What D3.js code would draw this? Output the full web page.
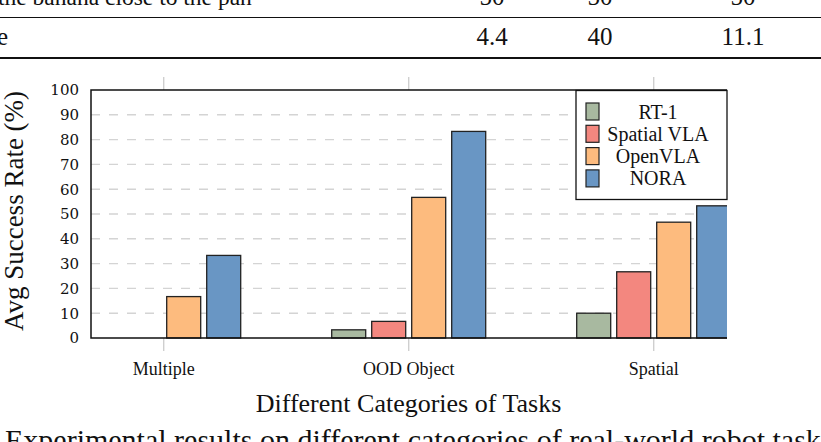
<!DOCTYPE html>
<html>
<head>
<meta charset="utf-8">
<script src="https://cdn.jsdelivr.net/npm/d3@7"></script>
<style>
  body { margin: 0; background: #fff; }
  svg { display: block; }
</style>
</head>
<body>
<div id="chart"></div>
<script>
// data
const categories = ["Multiple", "OOD Object", "Spatial"];
const seriesNames = ["RT-1", "Spatial VLA", "OpenVLA", "NORA"];
const rt1 = [0, 3.3, 10];
const spatialVla = [0, 6.7, 26.7];
const openVla = [16.7, 56.7, 46.7];
const nora = [33.3, 83.3, 53.3];
const yTicks = [0, 10, 20, 30, 40, 50, 60, 70, 80, 90, 100];
const colors = ["#a8b9a0", "#f3877f", "#fdbb7e", "#6996c4"];

// the table rows above the figure and the caption below
const tableRowTop = ["the banana close to the pan", "50", "50", "50"];
const tableRowAvg = ["Average", "4.4", "40", "11.1"];
const caption = "Experimental results on different categories of real-world robot tasks";

const W = 821, H = 442;
const plot = { left: 91, top: 90, right: 727, bottom: 338 };
const serif = "'Liberation Serif', 'Times New Roman', serif";

const svg = d3.select("#chart").append("svg")
  .attr("width", W).attr("height", H);

// ---- table fragment ----
const colX = [null, 492, 600, 743];
const tbl = svg.append("g").style("font-family", serif).style("font-size", "25px").attr("fill", "#111");
tbl.append("text").attr("x", -2).attr("y", 5).style("font-size", "23.5px").text(tableRowTop[0]);
tbl.append("text").attr("x", 8).attr("y", 45).attr("text-anchor", "end").text(tableRowAvg[0]);
for (let i = 1; i < 4; i++) {
  tbl.append("text").attr("x", colX[i]).attr("y", 5).attr("text-anchor", "middle").text(tableRowTop[i]);
  tbl.append("text").attr("x", colX[i]).attr("y", 45).attr("text-anchor", "middle").text(tableRowAvg[i]);
}
svg.append("line").attr("x1", 0).attr("x2", W).attr("y1", 17.5).attr("y2", 17.5)
  .attr("stroke", "#111").attr("stroke-width", 1.2);
svg.append("line").attr("x1", 0).attr("x2", W).attr("y1", 58).attr("y2", 58)
  .attr("stroke", "#111").attr("stroke-width", 2);

// ---- scales ----
const x = d3.scalePoint().domain(categories).range([163.7, 653.7]);
const xs = d3.scaleBand().domain(seriesNames).range([-77, 77]).paddingInner(0.15).paddingOuter(0);
const y = d3.scaleLinear().domain([0, 100]).range([plot.bottom, plot.top]);

const values = [rt1, spatialVla, openVla, nora];
const barData = [];
seriesNames.forEach((s, si) => {
  categories.forEach((c, ci) => barData.push({ series: s, cat: c, value: values[si][ci], color: colors[si] }));
});

svg.append("clipPath").attr("id", "clip")
  .append("rect").attr("x", plot.left).attr("y", plot.top - 2)
  .attr("width", plot.right - plot.left).attr("height", plot.bottom - plot.top + 4);

// grid lines
svg.append("g").selectAll("line")
  .data(yTicks.filter(d => d > 0 && d < 100))
  .enter().append("line")
  .attr("x1", plot.left).attr("x2", plot.right)
  .attr("y1", d => y(d)).attr("y2", d => y(d))
  .attr("stroke", "#d4d4d4").attr("stroke-width", 1.4)
  .attr("stroke-dasharray", "9,9");

// x ticks (grey, above and below the frame)
categories.forEach(c => {
  svg.append("line").attr("x1", x(c)).attr("x2", x(c)).attr("y1", plot.top - 13).attr("y2", plot.top)
    .attr("stroke", "#cfcfcf").attr("stroke-width", 1.4);
  svg.append("line").attr("x1", x(c)).attr("x2", x(c)).attr("y1", plot.bottom).attr("y2", plot.bottom + 13)
    .attr("stroke", "#cfcfcf").attr("stroke-width", 1.4);
});

// bars
svg.append("g").attr("clip-path", "url(#clip)")
  .selectAll("rect").data(barData.filter(d => d.value > 0)).enter().append("rect")
  .attr("x", d => x(d.cat) + xs(d.series))
  .attr("y", d => y(d.value))
  .attr("width", xs.bandwidth())
  .attr("height", d => y(0) - y(d.value))
  .attr("fill", d => d.color)
  .attr("stroke", "#222").attr("stroke-width", 1.3);

// frame: left, top, bottom
svg.append("path")
  .attr("d", `M${plot.right},${plot.top}H${plot.left}V${plot.bottom}H${plot.right}`)
  .attr("fill", "none").attr("stroke", "#111").attr("stroke-width", 1.5);

// y tick labels
svg.append("g").selectAll("text").data(yTicks).enter().append("text")
  .attr("x", 79).attr("y", d => y(d)).attr("dy", "0.36em")
  .attr("text-anchor", "end")
  .style("font-family", "'DejaVu Serif', serif").style("font-size", "15px")
  .attr("fill", "#111")
  .text(d => d);

// x tick labels
svg.append("g").selectAll("text").data(categories).enter().append("text")
  .attr("x", d => x(d)).attr("y", 375)
  .attr("text-anchor", "middle")
  .style("font-family", serif).style("font-size", "18px")
  .attr("fill", "#111")
  .text(d => d);

// axis titles
svg.append("text")
  .attr("transform", "translate(23,211) rotate(-90)")
  .attr("text-anchor", "middle")
  .style("font-family", serif).style("font-size", "27px")
  .attr("fill", "#111")
  .text("Avg Success Rate (%)");

svg.append("text")
  .attr("x", 408.5).attr("y", 412)
  .attr("text-anchor", "middle")
  .style("font-family", serif).style("font-size", "26px")
  .attr("fill", "#111")
  .text("Different Categories of Tasks");

// caption (cut at the bottom of the crop)
svg.append("text")
  .attr("x", 5).attr("y", 450)
  .style("font-family", serif).style("font-size", "30px")
  .attr("fill", "#111")
  .text(caption);

// legend
const lg = svg.append("g");
lg.append("rect").attr("x", 576).attr("y", 90.5).attr("width", 151).attr("height", 109)
  .attr("fill", "#fff").attr("stroke", "#111").attr("stroke-width", 1.3);
seriesNames.forEach((s, i) => {
  const cy = 111.5 + i * 22.3;
  lg.append("rect").attr("x", 586).attr("y", cy - 8.5).attr("width", 13).attr("height", 17)
    .attr("fill", colors[i]).attr("stroke", "#222").attr("stroke-width", 1.2);
  lg.append("text").attr("x", 658).attr("y", cy).attr("dy", "0.35em")
    .attr("text-anchor", "middle")
    .style("font-family", serif).style("font-size", "20px")
    .attr("fill", "#111")
    .text(s);
});
</script>
</body>
</html>
